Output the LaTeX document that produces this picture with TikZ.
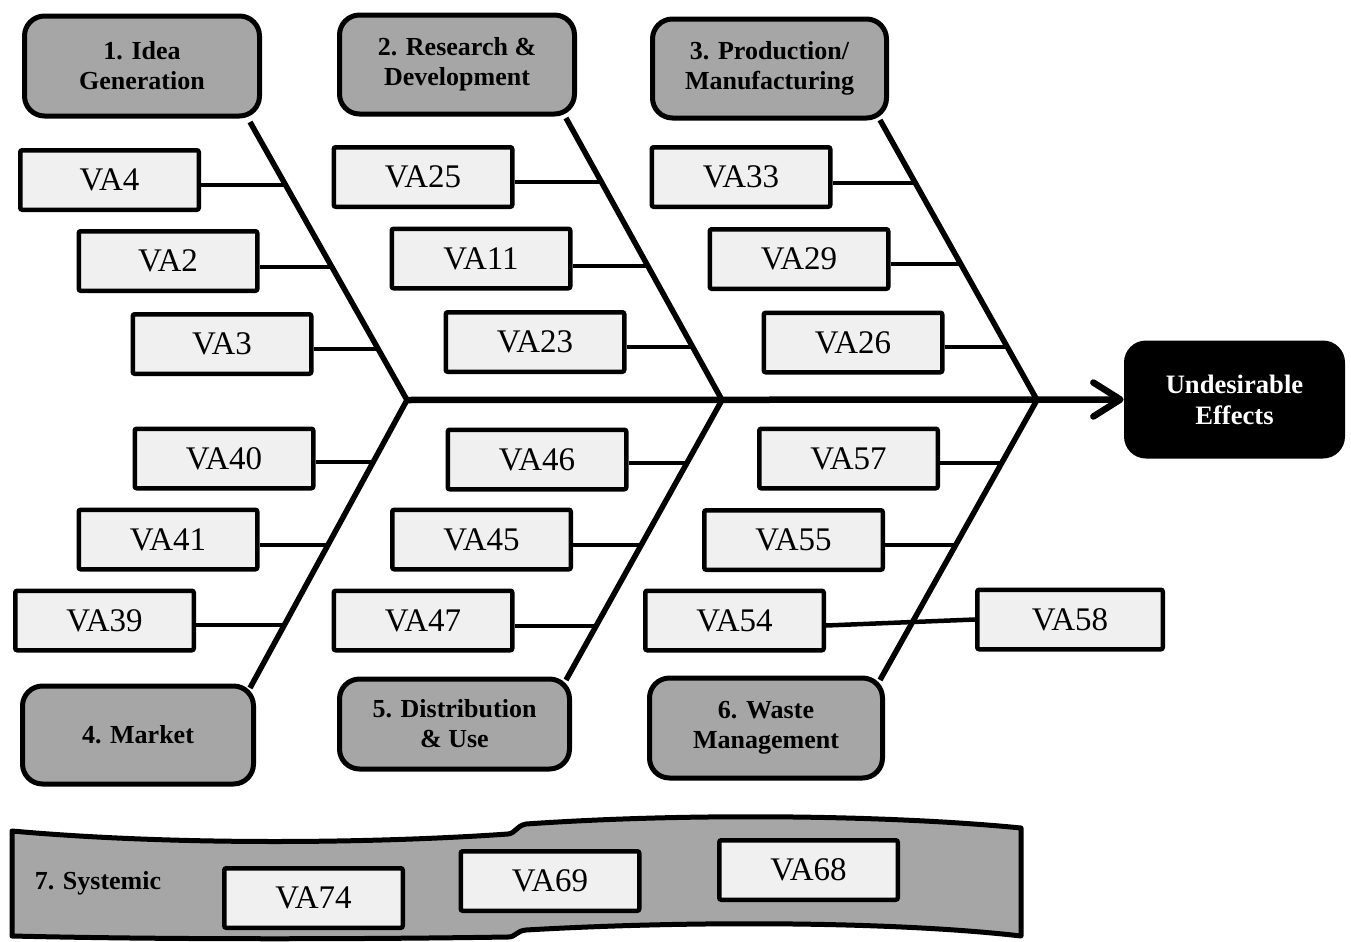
\documentclass[tikz,border=0pt]{standalone}
\usepackage{fontspec}
\setmainfont{Liberation Serif}
\usetikzlibrary{calc,arrows.meta}
\definecolor{catfill}{HTML}{A6A6A6}
\definecolor{vafill}{HTML}{F0F0F0}
\tikzset{
  vabox/.style={draw, line width=2.25pt, fill=vafill, minimum width=89.25pt,
    minimum height=29.75pt, inner sep=0pt, rounded corners=1pt,
    font=\fontsize{16.5}{19}\selectfont},
  catbox/.style={draw, line width=2.5pt, fill=catfill, inner sep=0pt,
    rounded corners=10pt, align=center,
    font=\fontsize{13}{15}\selectfont\bfseries},
  effectbox/.style={fill=black, text=white, inner sep=0pt, rounded corners=11pt,
    minimum width=110.5pt, minimum height=59pt, align=center,
    font=\fontsize{13.3}{15.5}\selectfont\bfseries},
  bone/.style={line width=2.75pt},
  link/.style={line width=2.25pt},
  spine/.style={line width=3.25pt, -{Straight Barb[length=13.5pt,width=17pt,round]}},
  band/.style={draw, line width=2.5pt, fill=catfill, line join=round}
}
\begin{document}
\begin{tikzpicture}[x=0.5pt,y=-0.5pt]
\useasboundingbox (0,0) rectangle (1351,942);

% systemic band along the bottom
\draw[band] (12,831) .. controls (180,846) and (380,843) .. (508,834)
  .. controls (516,833) and (516,826) .. (526,824)
  .. controls (700,812) and (900,816) .. (1021,828)
  -- (1021,936)
  .. controls (900,922) and (700,920) .. (526,930)
  .. controls (516,931) and (516,937) .. (508,937)
  .. controls (380,939) and (180,940) .. (12,936) -- cycle;
\node[font=\fontsize{13}{15}\selectfont\bfseries] (sys) at (98,883) {7. Systemic};
\node[vabox] (VA74) at (313.5,898) {VA74};
\node[vabox] (VA69) at (550,881) {VA69};
\node[vabox] (VA68) at (808.5,870) {VA68};

% category boxes
\node[catbox, minimum width=117.5pt, minimum height=50pt] (C1) at (142,66) {1. Idea\\Generation};
\node[catbox, minimum width=117.5pt, minimum height=49.5pt] (C2) at (457,64.5) {2. Research \&\\Development};
\node[catbox, minimum width=117pt, minimum height=49.5pt] (C3) at (769.5,68.5) {3. Production/\\Manufacturing};
\node[catbox, minimum width=115.5pt, minimum height=49pt] (C4) at (138,735) {4. Market};
\node[catbox, minimum width=115pt, minimum height=45pt] (C5) at (454.5,724) {5. Distribution\\\& Use};
\node[catbox, minimum width=116.5pt, minimum height=50pt] (C6) at (766,728) {6. Waste\\Management};

% effect box
\node[effectbox] (UE) at (1234.5,399.5) {Undesirable\\Effects};

% bone ends and vertices
\coordinate (b1t) at (250,122);
\coordinate (V1) at (407,400);
\coordinate (b1b) at (250,688);
\coordinate (b2t) at (566,118);
\coordinate (V2) at (722,400);
\coordinate (b2b) at (566,680);
\coordinate (b3t) at (880,120);
\coordinate (V3) at (1037,400);
\coordinate (b3b) at (880,680);

\draw[bone] (b1t) -- (V1) -- (b1b);
\draw[bone] (b2t) -- (V2) -- (b2b);
\draw[bone] (b3t) -- (V3) -- (b3b);
\draw[spine] (V1) -- (UE.west);

% value-added activity boxes
\node[vabox] (VA4)  at (109.5,180) {VA4};
\node[vabox] (VA2)  at (168,261)   {VA2};
\node[vabox] (VA3)  at (222,344)   {VA3};
\node[vabox] (VA40) at (224,458.5) {VA40};
\node[vabox] (VA41) at (168,539.5) {VA41};
\node[vabox] (VA39) at (104.5,620.5) {VA39};
\node[vabox] (VA25) at (423,177)   {VA25};
\node[vabox] (VA11) at (481,258.5) {VA11};
\node[vabox] (VA23) at (535,342)   {VA23};
\node[vabox] (VA46) at (537,459.5) {VA46};
\node[vabox] (VA45) at (481.5,539.5) {VA45};
\node[vabox] (VA47) at (423,620.5) {VA47};
\node[vabox] (VA33) at (741,177)   {VA33};
\node[vabox] (VA29) at (799,259)   {VA29};
\node[vabox] (VA26) at (853,342.5) {VA26};
\node[vabox] (VA57) at (848.5,458.5) {VA57};
\node[vabox] (VA55) at (793.5,540) {VA55};
\node[vabox] (VA54) at (734.5,620.5) {VA54};
\node[vabox, minimum width=92.75pt] (VA58) at (1070,619.5) {VA58};

% junctions on the bones
\coordinate (j4)  at ($(b1t)!0.2266!(V1)$);
\coordinate (j2)  at ($(b1t)!0.5216!(V1)$);
\coordinate (j3)  at ($(b1t)!0.8165!(V1)$);
\coordinate (j40) at ($(V1)!0.2153!(b1b)$);
\coordinate (j41) at ($(V1)!0.5035!(b1b)$);
\coordinate (j39) at ($(V1)!0.7813!(b1b)$);
\coordinate (j25) at ($(b2t)!0.2270!(V2)$);
\coordinate (j11) at ($(b2t)!0.5248!(V2)$);
\coordinate (j23) at ($(b2t)!0.8120!(V2)$);
\coordinate (j46) at ($(V2)!0.2250!(b2b)$);
\coordinate (j45) at ($(V2)!0.5180!(b2b)$);
\coordinate (j47) at ($(V2)!0.8070!(b2b)$);
\coordinate (j33) at ($(b3t)!0.2250!(V3)$);
\coordinate (j29) at ($(b3t)!0.5140!(V3)$);
\coordinate (j26) at ($(b3t)!0.8110!(V3)$);
\coordinate (j57) at ($(V3)!0.2250!(b3b)$);
\coordinate (j55) at ($(V3)!0.5180!(b3b)$);

\foreach \v/\j in {VA4/j4, VA2/j2, VA3/j3, VA40/j40, VA41/j41, VA39/j39,
                   VA25/j25, VA11/j11, VA23/j23, VA46/j46, VA45/j45, VA47/j47,
                   VA33/j33, VA29/j29, VA26/j26, VA57/j57, VA55/j55}
  \draw[link] (\v.east |- \j) -- (\j);
\draw[link] ([yshift=-2.5pt]VA54.east) -- (VA58.west);
\end{tikzpicture}
\end{document}
